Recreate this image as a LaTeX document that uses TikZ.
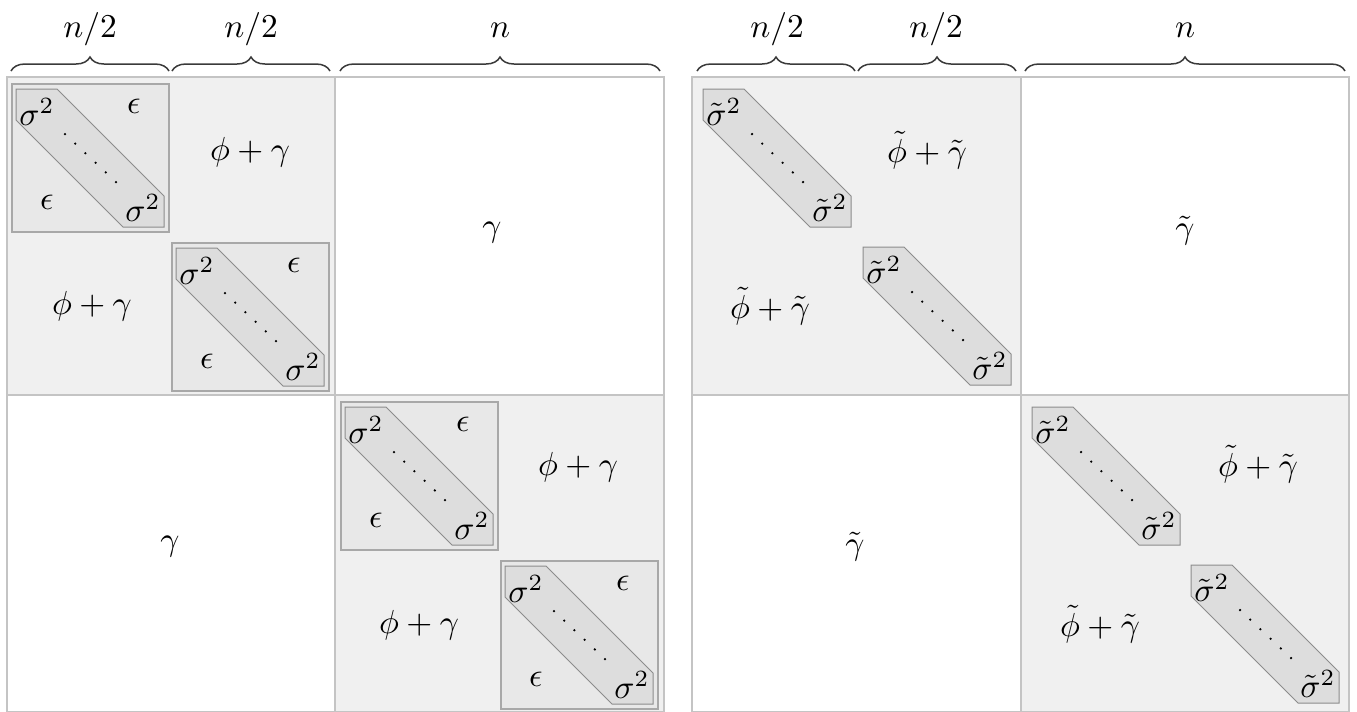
\documentclass[tikz,border=0pt]{standalone}
\usetikzlibrary{decorations.pathreplacing}
\definecolor{quadfill}{HTML}{F0F0F0}
\definecolor{quadline}{HTML}{C4C4C4}
\definecolor{blockfill}{HTML}{E8E8E8}
\definecolor{blockline}{HTML}{A8A8A8}
\definecolor{hexfill}{HTML}{DDDDDD}
\definecolor{hexline}{HTML}{8C8C8C}
\definecolor{bracecol}{HTML}{3A3A3A}
\tikzset{
  lbl/.style={font=\fontsize{10.4}{12}\selectfont, inner sep=0pt},
  toplbl/.style={lbl, anchor=base},
  quadgray/.style={fill=quadfill, draw=quadline, line width=0.45pt},
  quadwhite/.style={fill=white, draw=quadline, line width=0.45pt},
  blockstyle/.style={fill=blockfill, draw=blockline, line width=0.35pt},
  hexstyle/.style={fill=hexfill, draw=hexline, line width=0.3pt},
  bracestyle/.style={draw=bracecol, line width=0.45pt, decorate,
    decoration={brace, amplitude=4.2pt}},
}
\newcommand\HexBand[4]{% prefix, x, y, symbol
  \begin{scope}[shift={(#2,#3)}]
    \draw[hexstyle] (0,0) -- (41,0) -- (148,107) -- (148,138) -- (107,138) -- (0,31) -- cycle;
    \node[lbl] (#1-a) at (21,23) {$#4^2$};
    \node[lbl] (#1-b) at (127,119) {$#4^2$};
    \foreach \t in {0,...,5} \fill ({49+10.2*\t},{45+9.6*\t}) circle (0.38pt);
  \end{scope}}
\newcommand\EpsBlock[3]{% prefix, x, y
  \begin{scope}[shift={(#2,#3)}]
    \draw[blockstyle] (0,0) rectangle (157,148);
    \node[lbl] (#1-e1) at (122,22) {$\epsilon$};
    \node[lbl] (#1-e2) at (35,118) {$\epsilon$};
  \end{scope}
  \HexBand{#1h}{#2+4}{#3+5}{\sigma}}
\begin{document}
\begin{tikzpicture}[x=0.3pt, y=-0.3pt]
\useasboundingbox (0,0) rectangle (1357,711);
% ---------- left matrix ----------
\draw[quadgray]  (7,77) rectangle (335,395);
\draw[quadwhite] (335,77) rectangle (664,395);
\draw[quadwhite] (7,395) rectangle (335,712);
\draw[quadgray]  (335,395) rectangle (664,712);
\EpsBlock{L1}{12}{84}
\EpsBlock{L2}{172}{243}
\EpsBlock{L3}{341}{402}
\EpsBlock{L4}{501}{561}
\node[lbl] (Lpg1) at (250,152) {$\phi+\gamma$};
\node[lbl] (Lpg2) at (92,306) {$\phi+\gamma$};
\node[lbl] (Lpg3) at (578,467) {$\phi+\gamma$};
\node[lbl] (Lpg4) at (419,625) {$\phi+\gamma$};
\node[lbl] (Lg1) at (492,233) {$\gamma$};
\node[lbl] (Lg2) at (170,547) {$\gamma$};
% braces
\draw[bracestyle] (11,71) -- (169,71);
\draw[bracestyle] (172,71) -- (330,71);
\draw[bracestyle] (340,71) -- (660,71);
\node[toplbl] (Ln1) at (90,37) {$n/2$};
\node[toplbl] (Ln2) at (251,37) {$n/2$};
\node[toplbl] (Ln3) at (500,37) {$n$};
% ---------- right matrix ----------
\draw[quadgray]  (692,77) rectangle (1021,395);
\draw[quadwhite] (1021,77) rectangle (1349,395);
\draw[quadwhite] (692,395) rectangle (1021,712);
\draw[quadgray]  (1021,395) rectangle (1349,712);
\HexBand{R1}{703}{89}{\tilde\sigma}
\HexBand{R2}{863}{247}{\tilde\sigma}
\HexBand{R3}{1032}{407}{\tilde\sigma}
\HexBand{R4}{1191}{565}{\tilde\sigma}
\node[lbl] (Rpg1) at (927,150) {$\tilde\phi+\tilde\gamma$};
\node[lbl] (Rpg2) at (770,306) {$\tilde\phi+\tilde\gamma$};
\node[lbl] (Rpg3) at (1258,464) {$\tilde\phi+\tilde\gamma$};
\node[lbl] (Rpg4) at (1100,624) {$\tilde\phi+\tilde\gamma$};
\node[lbl] (Rg1) at (1185,231) {$\tilde\gamma$};
\node[lbl] (Rg2) at (855,547) {$\tilde\gamma$};
\draw[bracestyle] (697,71) -- (855,71);
\draw[bracestyle] (858,71) -- (1016,71);
\draw[bracestyle] (1025,71) -- (1345,71);
\node[toplbl] (Rn1) at (777,37) {$n/2$};
\node[toplbl] (Rn2) at (936,37) {$n/2$};
\node[toplbl] (Rn3) at (1185,37) {$n$};
\end{tikzpicture}
\end{document}
